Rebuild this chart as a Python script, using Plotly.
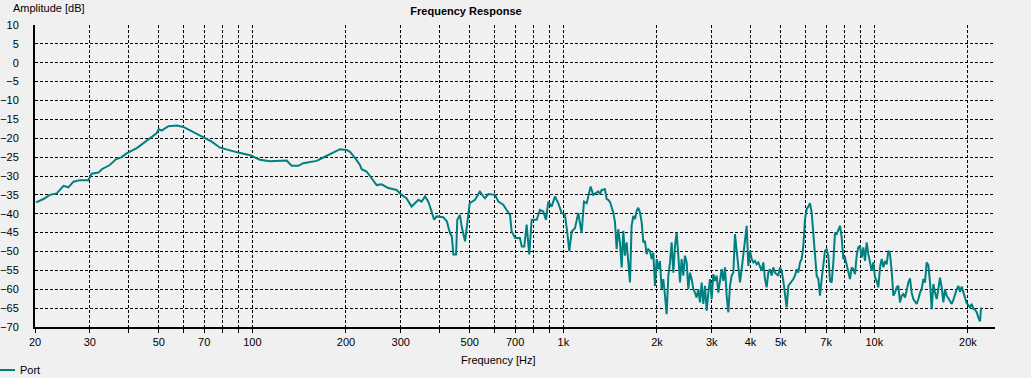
import plotly.graph_objects as go

# ---- data (frequency in Hz, level in dB) ----
freq_lf = [20.15, 21.3, 22.3, 23.5, 24.7, 25.6, 26.6, 27.9, 29.7, 30.4, 32.0, 32.8, 34.8, 36.4,
           38.0, 39.4, 42.5, 45.7, 49.2, 50.0, 51.1, 53.7, 57.1, 60.0, 64.6, 69.5, 74.0, 78.7,
           84.7, 90.0, 98.3, 105.8, 113.9, 128.9, 133.8, 140.5, 145.8, 161.0, 169.1, 179.9,
           191.3, 201, 206, 213.8, 221.8, 224.6, 233, 241.8, 251, 260.4, 273.6, 291, 302, 313,
           325, 342, 350, 359, 368, 377, 384, 391, 411, 422, 432, 438, 443, 452, 456, 465, 471,
           483, 491, 500, 520, 539, 553, 560, 574, 603, 618, 641, 657, 674, 682, 700, 725, 735,
           749, 762, 777, 791, 821, 841, 862, 879, 895, 917, 940, 963, 988, 1012, 1030, 1045,
           1064, 1090, 1117, 1145, 1165, 1189, 1224, 1248, 1295]
db_lf = [-37.0, -36.1, -35.0, -34.6, -32.6, -33.0, -31.5, -31.1, -31.1, -29.4, -29.1, -28.2, -27.1,
         -25.6, -25.0, -24.0, -22.6, -20.6, -18.7, -17.6, -18.0, -16.8, -16.6, -17.0, -18.4,
         -19.6, -20.9, -22.5, -23.3, -23.8, -24.5, -25.7, -26.1, -25.9, -27.3, -27.3, -26.6,
         -26.0, -25.1, -24.0, -22.9, -23.1, -23.6, -25.2, -27.1, -28.2, -28.8, -30.6, -32.4,
         -32.2, -33.2, -33.7, -35.0, -35.9, -38.1, -36.3, -36.8, -35.4, -36.8, -39.4, -41.6,
         -40.7, -40.9, -42.0, -45.1, -46.0, -50.8, -50.8, -41.6, -40.3, -43.4, -47.3, -41.6,
         -37.2, -36.3, -34.1, -35.4, -35.9, -34.8, -35.0, -36.8, -37.6, -39.0, -40.3, -44.7,
         -46.4, -46.4, -48.7, -48.7, -42.9, -50.8, -41.6, -41.6, -39.0, -39.4, -41.6, -36.8,
         -38.1, -35.4, -37.2, -39.8, -40.3, -45.1, -49.9, -44.7, -43.8, -39.8, -45.1, -36.8,
         -37.2, -32.8, -35.0, -34.1]

freq_hf = [1312, 1328, 1345, 1361, 1378, 1395, 1413, 1430, 1448, 1466,
           1484, 1502, 1521, 1540, 1559, 1578, 1598, 1618, 1638, 1658,
           1679, 1700, 1721, 1742, 1764, 1786, 1808, 1830, 1853, 1876,
           1899, 1923, 1947, 1971, 1996, 2020, 2045, 2071, 2096, 2123,
           2149, 2176, 2203, 2230, 2258, 2286, 2314, 2343, 2372, 2401,
           2431, 2461, 2492, 2523, 2554, 2586, 2618, 2650, 2683, 2717,
           2751, 2785, 2819, 2854, 2890, 2926, 2962, 2999, 3036, 3074,
           3112, 3151, 3190, 3229, 3269, 3310, 3351, 3393, 3435, 3477,
           3521, 3564, 3609, 3653, 3699, 3745, 3791, 3838, 3886, 3934,
           3983, 4033, 4083, 4133, 4185, 4237, 4289, 4342, 4396, 4451,
           4506, 4562, 4619, 4676, 4734, 4793, 4853, 4913, 4974, 5036,
           5098, 5162, 5226, 5291, 5356, 5423, 5490, 5558, 5627, 5697,
           5768, 5840, 5912, 5986, 6060, 6135, 6211, 6289, 6367, 6446,
           6526, 6607, 6689, 6772, 6856, 6941, 7027, 7115, 7203, 7292,
           7383, 7475, 7568, 7662, 7757, 7853, 7951, 8049, 8149, 8251,
           8353, 8457, 8562, 8668, 8776, 8885, 8995, 9107, 9220, 9334,
           9450, 9568, 9686, 9807, 9928, 10052, 10177, 10303, 10431, 10560,
           10692, 10825, 10959, 11095, 11233, 11373, 11514, 11657, 11801, 11948,
           12096, 12246, 12398, 12552, 12708, 12866, 13026, 13188, 13351, 13517,
           13685, 13855, 14027, 14201, 14377, 14556, 14737, 14920, 15105, 15293,
           15483, 15675, 15870, 16067, 16267, 16469, 16673, 16880, 17090, 17302,
           17517, 17735, 17955, 18178, 18404, 18632, 18864, 19098, 19335, 19575,
           19818, 20064, 20313, 20566, 20821, 21080, 21341, 21607, 21875, 22050]
db_hf = [-34.8, -33.7, -33.5, -33.5, -36.1, -36.3, -36.9, -38.4, -39.7, -42.3,
         -49.4, -44.1, -47.6, -54.2, -44.5, -51.1, -47.6, -52.9, -58.2, -43.2,
         -40.6, -41.4, -39.2, -38.4, -39.7, -42.3, -47.6, -47.2, -50.7, -49.4,
         -49.8, -52.0, -50.3, -59.1, -52.0, -54.7, -52.5, -60.0, -57.3, -61.7,
         -66.6, -56.4, -52.9, -47.6, -55.6, -48.5, -45.0, -51.1, -58.2, -52.0,
         -56.4, -51.1, -52.9, -60.0, -55.6, -57.3, -60.0, -60.9, -62.2, -60.0,
         -63.5, -58.2, -63.9, -59.1, -65.7, -60.9, -57.3, -62.6, -56.0, -57.8,
         -56.4, -60.9, -57.3, -54.7, -57.8, -54.2, -61.7, -66.1, -59.1, -56.4,
         -55.6, -45.4, -49.8, -54.2, -58.2, -54.7, -51.1, -47.6, -43.2, -53.8,
         -49.8, -52.0, -52.9, -52.5, -53.4, -52.9, -54.2, -55.1, -52.9, -57.3,
         -59.5, -55.6, -54.7, -56.4, -54.2, -55.6, -56.0, -56.4, -54.2, -55.1,
         -57.8, -60.9, -64.8, -59.1, -58.6, -57.8, -57.3, -56.4, -54.7, -55.6,
         -52.9, -52.0, -48.5, -41.4, -38.8, -38.1, -37.2, -39.7, -45.4, -52.0,
         -56.4, -57.3, -61.7, -57.3, -52.9, -49.8, -49.4, -51.1, -57.8, -58.2,
         -52.9, -45.0, -45.4, -44.1, -43.2, -46.3, -52.0, -51.6, -53.4, -56.0,
         -57.3, -54.2, -54.7, -56.0, -51.1, -48.9, -48.5, -51.6, -48.9, -52.5,
         -47.6, -50.7, -52.5, -55.1, -52.9, -56.9, -57.8, -59.5, -54.2, -52.0,
         -54.2, -52.5, -53.4, -49.8, -50.7, -55.1, -61.7, -60.9, -59.5, -59.1,
         -63.5, -61.7, -61.3, -62.2, -60.4, -58.2, -57.1, -60.9, -62.6, -63.3,
         -63.9, -62.6, -60.9, -60.0, -57.3, -58.2, -52.9, -53.6, -58.2, -65.3,
         -58.6, -60.9, -62.6, -60.0, -56.9, -59.5, -63.5, -60.0, -61.7, -62.4,
         -63.1, -63.9, -62.8, -61.3, -60.0, -59.1, -60.7, -59.3, -61.0, -62.2,
         -63.7, -64.2, -64.8, -63.9, -65.1, -65.4, -66.1, -67.5, -68.5, -64.8]

freq_hz = freq_lf + freq_hf
level_db = db_lf + db_hf

# ---- axis ticks ----
x_grid = [20, 30, 40, 50, 60, 70, 80, 90,
          100, 200, 300, 400, 500, 600, 700, 800, 900,
          1000, 2000, 3000, 4000, 5000, 6000, 7000, 8000, 9000, 10000, 20000]
x_labels = {20: "20", 30: "30", 50: "50", 70: "70", 100: "100", 200: "200", 300: "300",
            500: "500", 700: "700", 1000: "1k", 2000: "2k", 3000: "3k", 4000: "4k",
            5000: "5k", 7000: "7k", 10000: "10k", 20000: "20k"}
y_ticks = list(range(-70, 15, 5))

BG = "#f0f0f0"
TEAL = "#008080"
FONT = "Liberation Sans, Arial, sans-serif"

# plot-area geometry in pixels (used only to place the free texts)
L, R, T, B = 35, 36, 25, 51
PW, PH = 1031 - L - R, 378 - T - B


def px_x(px):
    return (px - L) / PW


def px_y(py):
    return (378 - B - py) / PH


fig = go.Figure()
fig.add_trace(go.Scatter(x=freq_hz, y=level_db, mode="lines", name="Port",
                         line=dict(color=TEAL, width=2)))

fig.update_layout(
    width=1031, height=378,
    paper_bgcolor=BG, plot_bgcolor=BG,
    margin=dict(l=L, r=R, t=T, b=B, autoexpand=False),
    font=dict(family=FONT, size=11, color="black"),
    showlegend=True,
    legend=dict(x=px_x(-20), y=px_y(370), xanchor="left", yanchor="middle",
                bgcolor="rgba(0,0,0,0)", borderwidth=0,
                font=dict(size=11, color="black")),
    title=dict(text="<b>Frequency Response</b>", xref="container", yref="container",
               x=466 / 1031, y=1 - 11.5 / 378, xanchor="center", yanchor="middle",
               font=dict(size=11, color="black", family=FONT)),
    annotations=[
        dict(text="Amplitude [dB]", xref="paper", yref="paper",
             x=px_x(11), y=px_y(7.5), xanchor="left", yanchor="middle",
             showarrow=False, font=dict(size=11, color="black")),
        dict(text="Frequency [Hz]", xref="paper", yref="paper",
             x=px_x(498), y=px_y(360), xanchor="center", yanchor="middle",
             showarrow=False, font=dict(size=11, color="black")),
    ],
)

fig.update_xaxes(
    type="log", range=[1.30103, 4.3881], automargin=False,
    tickvals=x_grid, ticktext=[x_labels.get(v, "") for v in x_grid],
    showgrid=True, gridcolor="black", gridwidth=1, griddash="3px,2px",
    showline=True, linecolor="black", linewidth=2,
    ticks="outside", ticklen=4, tickcolor="black", tickwidth=1,
    zeroline=False, tickfont=dict(size=11, color="black"),
)
fig.update_yaxes(
    range=[-70, 10], tickvals=y_ticks, automargin=False,
    showgrid=True, gridcolor="black", gridwidth=1, griddash="3px,2px",
    showline=True, linecolor="black", linewidth=2,
    ticks="", ticklabelstandoff=12,
    zeroline=False, tickfont=dict(size=11, color="black"),
)

fig.write_html(
    "out.html",
    config={"displayModeBar": False},
    post_script="document.body.style.margin='0px';document.body.style.background='#f0f0f0';",
)
